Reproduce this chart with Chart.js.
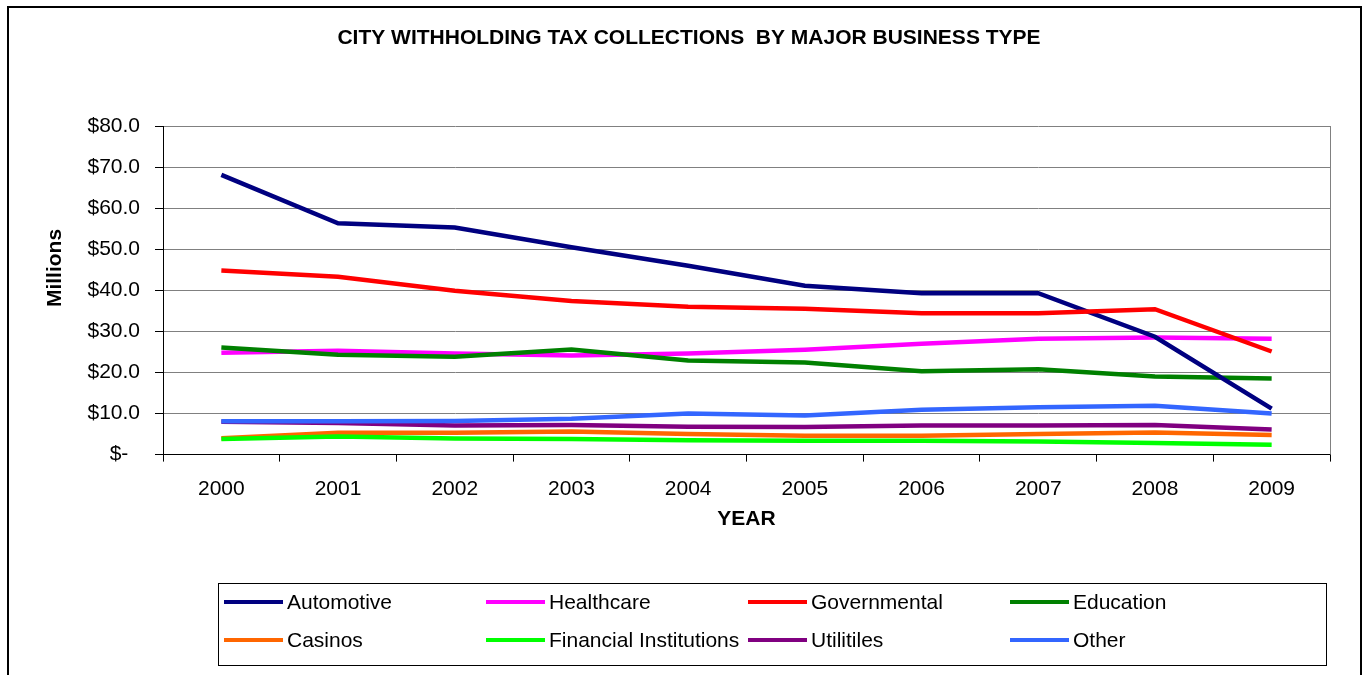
<!DOCTYPE html>
<html>
<head>
<meta charset="utf-8">
<title>City Withholding Tax Collections by Major Business Type</title>
<script src="https://cdn.jsdelivr.net/npm/chart.js@4"></script>
<style>
  html, body { margin: 0; padding: 0; background: #fff; }
  #wrap { position: relative; width: 1369px; height: 675px; }
</style>
</head>
<body>
<div id="wrap"><canvas id="chart"></canvas></div>
<script>
// ============================================================
// DATA (millions of dollars)
// ============================================================
const years = ['2000', '2001', '2002', '2003', '2004', '2005', '2006', '2007', '2008', '2009'];

const automotive   = [68.1, 56.3, 55.3, 50.5, 46.0, 41.1, 39.3, 39.3, 28.7, 11.2];
const healthcare   = [24.8, 25.3, 24.6, 24.1, 24.6, 25.5, 27.0, 28.2, 28.5, 28.2];
const governmental = [44.8, 43.3, 39.9, 37.4, 36.0, 35.5, 34.4, 34.4, 35.4, 25.1];
const education    = [26.1, 24.3, 23.8, 25.6, 22.9, 22.4, 20.3, 20.8, 19.0, 18.5];
const casinos      = [4.0, 5.3, 5.3, 5.6, 5.0, 4.6, 4.6, 5.0, 5.4, 4.8];
const financial    = [3.8, 4.4, 3.9, 3.8, 3.5, 3.4, 3.4, 3.2, 2.8, 2.4];
const utilities    = [8.0, 7.7, 7.1, 7.2, 6.8, 6.7, 7.1, 7.1, 7.2, 6.1];
const other        = [8.1, 8.1, 8.2, 8.7, 10.0, 9.5, 10.9, 11.5, 11.9, 10.0];

const seriesNames  = ['Automotive', 'Healthcare', 'Governmental', 'Education',
                      'Casinos', 'Financial Institutions', 'Utilitiles', 'Other'];
const seriesData   = [automotive, healthcare, governmental, education,
                      casinos, financial, utilities, other];
const seriesColors = ['#000080', '#FF00FF', '#FF0000', '#008000',
                      '#FF6600', '#00FF00', '#800080', '#3366FF'];
// lower = drawn later (on top)
const seriesOrder  = [1, 7, 0, 6, 5, 4, 3, 2];

const TITLE = 'CITY WITHHOLDING TAX COLLECTIONS  BY MAJOR BUSINESS TYPE';
const FONT  = "'Liberation Sans', Arial, sans-serif";

// ============================================================
// Outer frame, title, plot border, y title and boxed legend
// ============================================================
const decor = {
  id: 'decor',
  afterDraw(chart) {
    const ctx = chart.ctx;
    const a = chart.chartArea;
    ctx.save();

    // right edge of plot area
    ctx.strokeStyle = '#808080';
    ctx.lineWidth = 1;
    ctx.beginPath();
    ctx.moveTo(a.right + 0.5, a.top);
    ctx.lineTo(a.right + 0.5, a.bottom);
    ctx.stroke();

    // outer frame
    ctx.strokeStyle = '#000';
    ctx.lineWidth = 2;
    ctx.strokeRect(8, 7, 1353, 700);

    // chart title
    ctx.fillStyle = '#000';
    ctx.font = 'bold 21px ' + FONT;
    ctx.textAlign = 'center';
    ctx.textBaseline = 'middle';
    ctx.fillText(TITLE, 689, 38);

    // y axis title
    ctx.translate(55, 268);
    ctx.rotate(-Math.PI / 2);
    ctx.fillText('Millions', 0, 0);
    ctx.setTransform(1, 0, 0, 1, 0, 0);

    // legend box
    ctx.lineWidth = 1;
    ctx.strokeStyle = '#000';
    ctx.strokeRect(218.5, 583.5, 1108, 82);

    ctx.font = '21px ' + FONT;
    ctx.textAlign = 'left';
    seriesNames.forEach((name, i) => {
      const col = i % 4, row = Math.floor(i / 4);
      const x = 224 + col * 262;
      const y = 602 + row * 38;
      ctx.strokeStyle = seriesColors[i];
      ctx.lineWidth = 4;
      ctx.beginPath();
      ctx.moveTo(x, y);
      ctx.lineTo(x + 59, y);
      ctx.stroke();
      ctx.fillText(name, x + 63, y + 1);
    });
    ctx.restore();
  }
};

new Chart(document.getElementById('chart'), {
  type: 'line',
  data: {
    labels: years,
    datasets: seriesNames.map((name, i) => ({
      label: name,
      data: seriesData[i],
      borderColor: seriesColors[i],
      backgroundColor: seriesColors[i],
      borderWidth: 4.5,
      pointRadius: 0,
      tension: 0,
      fill: false,
      order: seriesOrder[i],
    }))
  },
  options: {
    responsive: true,
    maintainAspectRatio: false,
    animation: false,
    layout: { padding: { left: 36, right: 39, top: 126, bottom: 143.5 } },
    plugins: {
      legend: { display: false },
      tooltip: { enabled: false },
      title: { display: false }
    },
    scales: {
      x: {
        offset: true,
        grid: { display: true, offset: true, drawOnChartArea: false, drawTicks: true,
                tickLength: 7, tickColor: '#000' },
        border: { color: '#000', width: 1 },
        ticks: { color: '#000', font: { family: FONT, size: 21 }, padding: 15, maxRotation: 0 },
        title: { display: true, text: 'YEAR', color: '#000',
                 font: { family: FONT, size: 21, weight: 'bold' }, padding: { top: -10.5, bottom: 0 } }
      },
      y: {
        min: 0,
        max: 80,
        afterFit: s => { s.width = 127; },
        grid: { color: '#808080', lineWidth: 1, tickLength: 8, tickColor: '#000' },
        border: { color: '#000', width: 1 },
        ticks: {
          stepSize: 10,
          color: '#000',
          padding: 15,
          font: { family: FONT, size: 21 },
          callback: v => v === 0 ? '$-  ' : '$' + v.toFixed(1)
        },
        title: { display: false }
      }
    }
  },
  plugins: [decor]
});
</script>
</body>
</html>
